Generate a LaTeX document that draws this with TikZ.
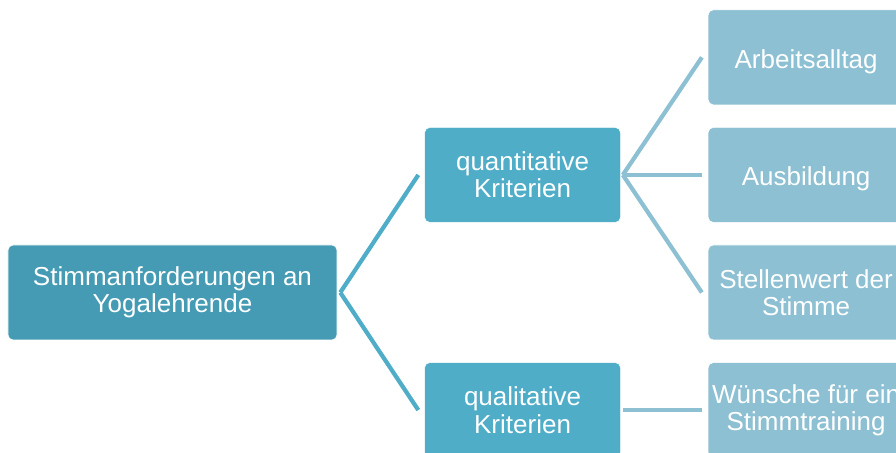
\documentclass[tikz,border=0pt]{standalone}
\usepackage{fontspec}
\setmainfont{Liberation Sans}
\usepackage{xcolor}
\usetikzlibrary{positioning}
\definecolor{rootblue}{HTML}{459BB4}
\definecolor{midblue}{HTML}{4FADC8}
\definecolor{leafblue}{HTML}{8CC0D2}

\begin{document}
\begin{tikzpicture}[node distance=0.55cm and 2.175cm, every node/.style={font=\fontsize{18.5}{19.5}\selectfont, text=white}, box/.style={draw=white,line width=0.4pt,rounded corners=0.13cm,minimum height=2.375cm,inner xsep=2pt,align=center,execute at begin node={\rule{0pt}{1.03em}}}, rootbox/.style={box,fill=rootblue,minimum width=8.225cm}, midbox/.style={box,fill=midblue,minimum width=4.9cm}, leafbox/.style={box,fill=leafblue,minimum width=4.9cm}, conn/.style={line width=3pt}]
\useasboundingbox (-4.3125,-4.0125) rectangle (18.0875,7.3125);
\clip (-4.3125,-4.0125) rectangle (18.0875,7.3125);
\node[rootbox] (root) {Stimmanforderungen an\\Yogalehrende};
\node[midbox,above right=of root] (quant) {quantitative\\Kriterien};
\node[midbox,below right=of root] (qual) {qualitative\\Kriterien};
\node[leafbox,right=of quant] (ausb) {Ausbildung};
\node[leafbox,above=of ausb] (alltag) {Arbeitsalltag};
\node[leafbox,below=of ausb] (stellen) {Stellenwert der\\Stimme};
\node[leafbox,right=of qual] (wunsch) {Wünsche für ein\\Stimmtraining};
\draw[conn,midblue] ([xshift=0.075cm]root.east) -- ([xshift=-0.15cm]quant.west);
\draw[conn,midblue] ([xshift=0.075cm]root.east) -- ([xshift=-0.15cm]qual.west);
\draw[conn,leafblue] ([xshift=0.05cm]quant.east) -- ([xshift=-0.15cm]alltag.west);
\draw[conn,leafblue] ([xshift=0.05cm]quant.east) -- ([xshift=-0.15cm]ausb.west);
\draw[conn,leafblue] ([xshift=0.05cm]quant.east) -- ([xshift=-0.15cm]stellen.west);
\draw[conn,leafblue] ([xshift=0.05cm]qual.east) -- ([xshift=-0.15cm]wunsch.west);
\end{tikzpicture}
\end{document}
